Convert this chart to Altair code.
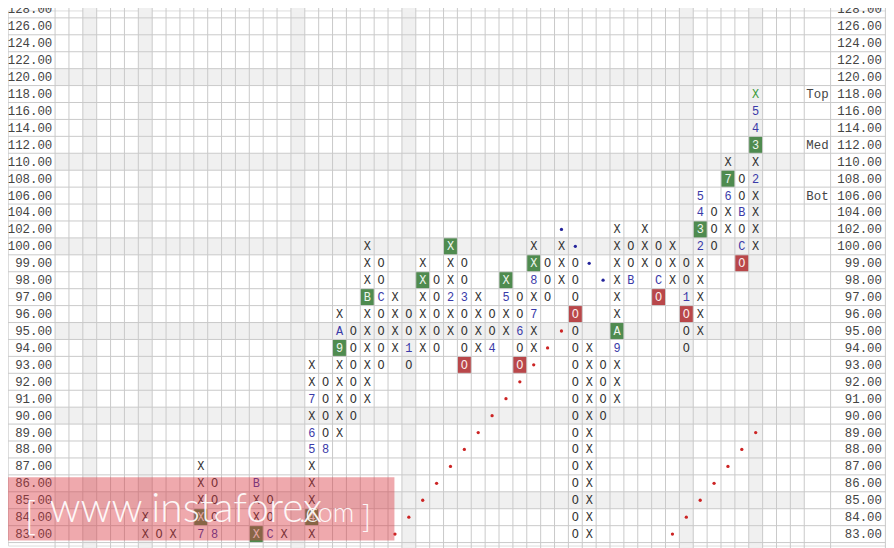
import altair as alt
import pandas as pd

# ---------------- data ----------------
ROW_PRICES = [128, 126, 124, 122, 120, 118, 116, 114, 112, 110, 108, 106, 104, 102,
              100, 99, 98, 97, 96, 95, 94, 93, 92, 91, 90, 89, 88, 87, 86, 85, 84, 83, 82]
LABELLED_PRICES = ROW_PRICES[:-1]

COL_INDEX = [6, 7, 8, 10, 11, 14, 15, 16, 18, 19, 20, 21, 22, 23, 24, 25, 26, 27, 28, 29,
             30, 31, 32, 33, 34, 35, 36, 37, 38, 39, 40, 41, 42, 43, 44, 45, 46, 47, 48, 49, 50]
COL_KIND = ["X", "O", "X", "X", "O", "X", "O", "X", "X", "O", "X", "O", "X", "O", "X", "O",
            "X", "O", "X", "O", "X", "O", "X", "O", "X", "O", "X", "O", "X", "O", "X", "O",
            "X", "O", "X", "O", "X", "O", "X", "O", "X"]
COL_LOW = [83, 83, 83, 83, 83, 83, 83, 83, 83, 88, 89, 90, 91, 93, 94, 93, 94, 94, 95, 93,
           94, 94, 95, 93, 94, 97, 98, 83, 83, 90, 91, 98, 99, 97, 98, 94, 95, 100, 102, 99, 100]
COL_HIGH = [84, 83, 83, 87, 86, 86, 85, 83, 93, 92, 96, 95, 100, 99, 97, 96, 99, 98, 100, 99,
            97, 96, 98, 97, 100, 99, 100, 99, 94, 93, 102, 100, 102, 100, 100, 99, 106, 104, 110, 108, 118]

SPECIAL_COL = [10, 10, 11, 14, 14, 15, 18, 18, 18, 18, 19, 20, 20, 22, 23, 25, 26, 28, 28, 29,
               29, 31, 32, 32, 33, 33, 34, 34, 34, 37, 40, 40, 41, 43, 43, 45, 45, 46, 46, 46,
               46, 48, 48, 49, 49, 49, 50, 50, 50, 50, 50]
SPECIAL_PRICE = [83, 84, 83, 83, 86, 83, 84, 88, 89, 91, 88, 94, 95, 97, 97, 94, 98, 97, 100, 97,
                 93, 94, 97, 98, 95, 93, 96, 98, 99, 96, 94, 95, 98, 98, 97, 97, 96, 100, 102, 104,
                 106, 106, 108, 104, 100, 99, 108, 112, 114, 116, 118]
SPECIAL_TEXT = ["7", "X", "8", "X", "B", "C", "4", "5", "6", "7", "8", "9", "A", "B", "C", "1", "X", "2", "X", "3",
                "O", "4", "5", "X", "6", "O", "7", "8", "X", "O", "9", "A", "B", "C", "O", "1", "O", "2", "3", "4",
                "5", "6", "7", "B", "C", "O", "2", "3", "4", "5", "X"]
SPECIAL_STYLE = ["plain", "green", "plain", "green", "plain", "plain", "green", "plain", "plain", "plain",
                 "plain", "green", "plain", "green", "plain", "plain", "green", "plain", "green", "plain",
                 "red", "plain", "plain", "green", "plain", "red", "plain", "plain", "green", "red",
                 "plain", "green", "plain", "plain", "red", "plain", "red", "plain", "green", "plain",
                 "plain", "plain", "green", "plain", "plain", "red", "plain", "green", "plain", "plain",
                 "greentext"]

BLUE_DOT_COL = [36, 37, 38, 39]
BLUE_DOT_PRICE = [102, 100, 99, 98]
RED_DOT_COL = [24, 25, 26, 27, 28, 29, 30, 31, 32, 33, 34, 35, 36, 44, 45, 46, 47, 48, 49, 50]
RED_DOT_PRICE = [83, 84, 85, 86, 87, 88, 89, 90, 91, 92, 93, 94, 95, 83, 84, 85, 86, 87, 88, 89]

SHADED_ROW_PRICES = [120, 110, 100, 95, 90, 85]
SHADED_COLS = [2, 6, 17, 25, 45, 50]

LEVEL_TEXT = ["Top", "Med", "Bot"]
LEVEL_PRICE = [118, 112, 106]

WATERMARK_TEXT = ["[", "www.instaforex", ".com", "]"]

# ---------------- layout (column / row units) ----------------
GRID_COLS = 54
LEVEL_EDGE = 55.9
RIGHT_EDGE = 59.85
LEFT_EDGE = -3.9
X0 = -3.392857
X1 = X0 + 886 / 14
Y0 = 0.5609
Y1 = Y0 + 540 / 17.08

row_of = {p: i for i, p in enumerate(ROW_PRICES)}

xs = alt.Scale(domain=[X0, X1], nice=False, zero=False)
ys = alt.Scale(domain=[Y0, Y1], nice=False, zero=False, reverse=True)

MONO = "Liberation Mono"

# cells
cells = {}
for c, k, lo, hi in zip(COL_INDEX, COL_KIND, COL_LOW, COL_HIGH):
    for p in ROW_PRICES:
        if lo <= p <= hi:
            cells[(c, p)] = [k, "plain"]
for c, p, t, s in zip(SPECIAL_COL, SPECIAL_PRICE, SPECIAL_TEXT, SPECIAL_STYLE):
    cells[(c, p)] = [t, s]

TEXT_COLORS = {"green": "#eef6ee", "red": "#fbecec", "greentext": "#3f9c3f"}
BOX_COLORS = {"green": "#4f8b4f", "red": "#b9474a"}
rec = []
for (c, p), (t, s) in cells.items():
    r = row_of[p]
    if s == "plain":
        col = "#333333" if t in ("X", "O") else "#3a3aa8"
    else:
        col = TEXT_COLORS[s]
    rec.append(dict(x=c, x2=c + 1, xc=c + 0.5, y=r, y2=r + 1, yc=r + 0.5,
                    text=t, style=s, tcolor=col, fill=BOX_COLORS.get(s, "none")))
cell_df = pd.DataFrame(rec)
box_df = cell_df[cell_df["style"].isin(["green", "red"])]

# shading
shade = []
for p in SHADED_ROW_PRICES:
    r = row_of[p]
    shade.append(dict(x=0, x2=GRID_COLS, y=r, y2=r + 1))
for c in SHADED_COLS:
    shade.append(dict(x=c, x2=c + 1, y=0, y2=len(ROW_PRICES)))
shade_df = pd.DataFrame(shade)

# grid lines
vl = [dict(x=c, y=0, y2=len(ROW_PRICES)) for c in list(range(0, GRID_COLS + 1)) + [LEVEL_EDGE, RIGHT_EDGE, LEFT_EDGE]]
hl = [dict(y=r, x=LEFT_EDGE, x2=RIGHT_EDGE) for r in range(1, len(ROW_PRICES) + 1)]
vl_df = pd.DataFrame(vl)
hl_df = pd.DataFrame(hl)

# dots
dots = [dict(x=c + 0.5, y=row_of[p] + 0.5, color="#23239a") for c, p in zip(BLUE_DOT_COL, BLUE_DOT_PRICE)]
dots += [dict(x=c + 0.5, y=row_of[p] + 0.5, color="#cc2424") for c, p in zip(RED_DOT_COL, RED_DOT_PRICE)]
dot_df = pd.DataFrame(dots)

# price labels
lab = []
for p in LABELLED_PRICES:
    i = row_of[p]
    lab.append(dict(x=-0.2, y=i + 0.5, text=f"{p:.2f}"))
    lab.append(dict(x=59.6, y=i + 0.5, text=f"{p:.2f}"))
lab_df = pd.DataFrame(lab)
lvl_df = pd.DataFrame([dict(x=54.95, y=row_of[p] + 0.5, text=t) for t, p in zip(LEVEL_TEXT, LEVEL_PRICE)])

# watermark
wm_rect = pd.DataFrame([dict(x=-3.75, x2=24.46, y=28.14, y2=31.88)])
wm_text = pd.DataFrame([
    dict(x=-2.2, y=31.24, text=WATERMARK_TEXT[0], size=40),
    dict(x=-0.4, y=30.77, text=WATERMARK_TEXT[1], size=41),
    dict(x=17.6, y=30.77, text=WATERMARK_TEXT[2], size=27),
    dict(x=22.1, y=31.12, text=WATERMARK_TEXT[3], size=32),
])


def X(f):
    return alt.X(f + ":Q", scale=xs, axis=None)


def Y(f):
    return alt.Y(f + ":Q", scale=ys, axis=None)


shade_layer = alt.Chart(shade_df).mark_rect(color="#f0f0f0").encode(
    x=X("x"), x2="x2", y=Y("y"), y2="y2")
box_layer = alt.Chart(box_df).mark_rect().encode(
    x=X("x"), x2="x2", y=Y("y"), y2="y2", fill=alt.Fill("fill:N", scale=None))
vline_layer = alt.Chart(vl_df).mark_rule(color="#c9c9c9", strokeWidth=1).encode(
    x=X("x"), y=Y("y"), y2="y2")
hline_layer = alt.Chart(hl_df).mark_rule(color="#c9c9c9", strokeWidth=1).encode(
    y=Y("y"), x=X("x"), x2="x2")
glyph_layer = alt.Chart(cell_df).mark_text(font=MONO, fontSize=12, baseline="middle", align="center").encode(
    x=X("xc"), y=Y("yc"), text="text:N", color=alt.Color("tcolor:N", scale=None))
dot_layer = alt.Chart(dot_df).mark_circle(size=11, opacity=1).encode(
    x=X("x"), y=Y("y"), color=alt.Color("color:N", scale=None))
label_layer = alt.Chart(lab_df).mark_text(font=MONO, fontSize=12.5, baseline="middle", align="right",
                                          color="#444444").encode(
    x=X("x"), y=Y("y"), text="text:N")
level_layer = alt.Chart(lvl_df).mark_text(font=MONO, fontSize=12.5, baseline="middle", align="center",
                                          color="#444444").encode(
    x=X("x"), y=Y("y"), text="text:N")
wm_rect_layer = alt.Chart(wm_rect).mark_rect(color="#d8323c", opacity=0.42).encode(
    x=X("x"), x2="x2", y=Y("y"), y2="y2")
wm_text_layer = alt.Chart(wm_text).mark_text(font="Lato", fontWeight=300, align="left",
                                             baseline="alphabetic", color="#ffffff", opacity=0.92).encode(
    x=X("x"), y=Y("y"), text="text:N", size=alt.Size("size:Q", scale=None))

chart = alt.layer(
    shade_layer, box_layer, vline_layer, hline_layer, glyph_layer, dot_layer,
    label_layer, level_layer, wm_rect_layer, wm_text_layer
).properties(
    width=886, height=540, autosize=alt.AutoSizeParams(type="none"), padding=0
).configure_view(stroke=None).configure(background="#ffffff")

chart.save("out.html", embed_options={"renderer": "svg", "actions": False})
